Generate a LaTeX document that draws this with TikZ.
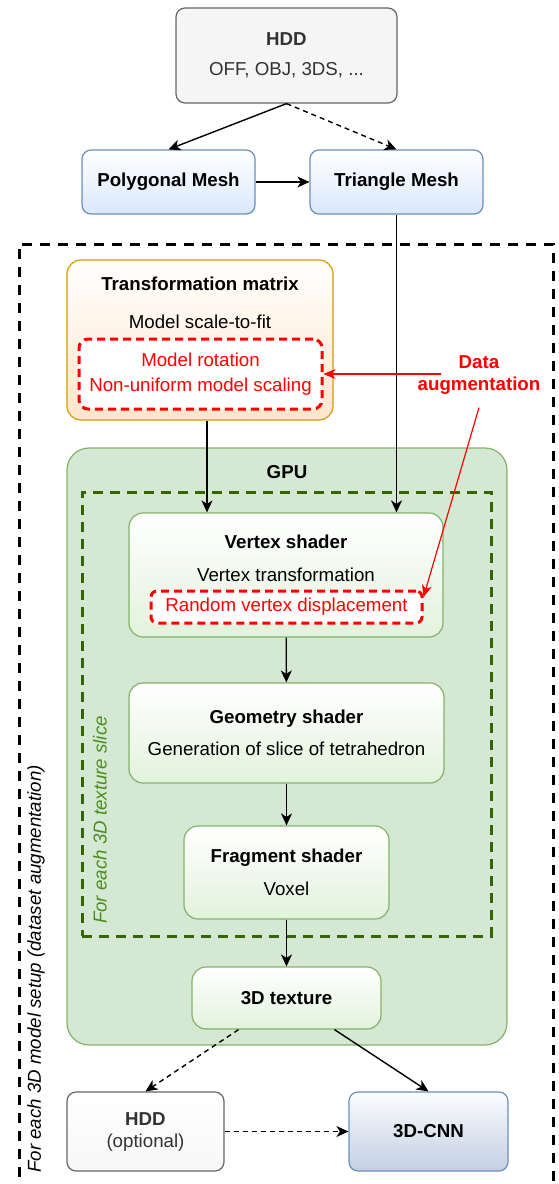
\documentclass[tikz,border=0pt]{standalone}
\usepackage{fontspec}
\setmainfont{Liberation Sans}
\usetikzlibrary{arrows.meta}

\definecolor{hddline}{HTML}{666666}
\definecolor{hddfill}{HTML}{F5F5F5}
\definecolor{hddtext}{HTML}{333333}
\definecolor{meshline}{HTML}{6C8EBF}
\definecolor{meshfill}{HTML}{DAE8FC}
\definecolor{cnnfill}{HTML}{C3CFE2}
\definecolor{tmline}{HTML}{D79B00}
\definecolor{tmfill}{HTML}{FFE6CC}
\definecolor{gpuline}{HTML}{82B366}
\definecolor{gpufill}{HTML}{D5E8D4}
\definecolor{shaderfill}{HTML}{E2F2DC}
\definecolor{sliceline}{HTML}{336600}
\definecolor{slicetext}{HTML}{4D8C21}
\definecolor{augred}{HTML}{FF0000}

\tikzset{
  every node/.style={font=\fontsize{18.7}{22}\selectfont, inner sep=0pt},
  card/.style={rounded corners=9pt, line width=1.2pt, align=center},
  graycard/.style={card, draw=hddline, text=hddtext},
  bluecard/.style={card, draw=meshline, top color=white, bottom color=meshfill},
  cnncard/.style={card, draw=meshline, top color=white!90!meshfill, bottom color=cnnfill},
  orangecard/.style={card, draw=tmline, top color=white, bottom color=tmfill, rounded corners=14pt},
  shadercard/.style={card, draw=gpuline, top color=white, bottom color=shaderfill, rounded corners=14pt},
  gpubox/.style={draw=gpuline, fill=gpufill, line width=1.2pt, rounded corners=22pt},
  slicebox/.style={draw=sliceline, line width=3pt, dash pattern=on 10pt off 7pt},
  loopline/.style={draw=black, line width=3pt, dash pattern=on 10pt off 8pt},
  redbox/.style={draw=augred, fill=white, text=augred, line width=3pt,
    dash pattern=on 8pt off 5pt, rounded corners=9pt, align=center},
  sidelabel/.style={rotate=90, font=\fontsize{18.7}{22}\selectfont\itshape},
  flow/.style={-{Stealth[length=12pt,width=11pt,inset=3.5pt]}, line width=1.4pt},
  flowdash/.style={flow, dash pattern=on 5pt off 4pt},
  augarrow/.style={-{Stealth[length=12pt,width=10pt,inset=3.5pt]}, draw=augred, line width=1.2pt},
}

\begin{document}
\begin{tikzpicture}[x=1pt,y=-1pt]
\useasboundingbox (0,0) rectangle (558,1184);

% loop over the 3D models
\draw[loopline] (19,1195) -- (19,244) -- (553,244) -- (553,1195);
\node[sidelabel] (looplabel) at (36,969) {For each 3D model setup (dataset augmentation)};

% input side
\node[graycard, fill=hddfill, minimum width=221pt, minimum height=95pt] (hdd) at (286.5,55.5)
  {\textbf{HDD}\\[8pt]OFF, OBJ, 3DS, ...};
\node[bluecard, minimum width=173pt, minimum height=64pt] (poly) at (168.5,182) {\textbf{Polygonal Mesh}};
\node[bluecard, minimum width=173pt, minimum height=64pt] (tri) at (396.5,182) {\textbf{Triangle Mesh}};

% transformation matrix
\node[orangecard, minimum width=266pt, minimum height=160pt] (tm) at (200,340) {};
\node (tmtitle) at (200,284) {\textbf{Transformation matrix}};
\node (tmfit) at (200,322) {Model scale-to-fit};
\node[redbox, minimum width=243pt, minimum height=70pt] (tmaug) at (200.5,374)
  {Model rotation\\[3pt]Non-uniform model scaling};

\node[text=augred, align=center] (aug) at (479,375) {\textbf{Data}\\\textbf{augmentation}};

% GPU pipeline
\node[gpubox, minimum width=440pt, minimum height=597pt] (gpu) at (287,746.5) {};
\node (gpulabel) at (287,472) {\textbf{GPU}};
\node[slicebox, minimum width=409pt, minimum height=444pt] (slice) at (286.5,714) {};
\node[sidelabel, text=slicetext] (slicelabel) at (100,820) {For each 3D texture slice};

\node[shadercard, minimum width=314pt, minimum height=124pt] (vs) at (286,575) {};
\node (vstitle) at (286,542) {\textbf{Vertex shader}};
\node (vstrans) at (286,575) {Vertex transformation};
\node[redbox, minimum width=271pt, minimum height=32pt, rounded corners=6pt] (vsaug) at (286.5,607)
  {Random vertex displacement};

\node[shadercard, minimum width=315pt, minimum height=100pt] (gs) at (286.5,733)
  {\textbf{Geometry shader}\\[10pt]Generation of slice of tetrahedron};
\node[shadercard, minimum width=205pt, minimum height=93pt] (fs) at (286.5,872.5)
  {\textbf{Fragment shader}\\[11pt]Voxel};
\node[shadercard, minimum width=189pt, minimum height=62pt] (tex) at (286.5,998) {\textbf{3D texture}};

% output side
\node[graycard, top color=white, bottom color=hddfill!80!hddline!20, minimum width=157pt, minimum height=79pt]
  (hddopt) at (145.5,1131.5) {\textbf{HDD}\\(optional)};
\node[cnncard, minimum width=159pt, minimum height=79pt] (cnn) at (428.5,1131.5) {\textbf{3D-CNN}};

% connectors
\draw[flow] (hdd.south) -- (poly.north);
\draw[flowdash] (hdd.south) -- (tri.north);
\draw[flow] (poly) -- (tri);
\draw[flow] (tri.south) -- (tri.south |- vs.north);
\coordinate (tmout) at ([xshift=7pt]tm.south);
\draw[flow] (tmout) -- (tmout |- vs.north);
\draw[flow] (vs) -- (gs);
\draw[flow] (gs) -- (fs);
\draw[flow] (fs) -- (tex);
\coordinate (texleft) at ([xshift=-48pt]tex.south);
\coordinate (texright) at ([xshift=48pt]tex.south);
\draw[flowdash] (texleft) -- (hddopt.north);
\draw[flow] (texright) -- (cnn.north);
\draw[flowdash] (hddopt) -- (cnn);
\coordinate (augstart) at ([xshift=23pt]aug.west);
\draw[augarrow] (augstart |- tmaug.east) -- (tmaug.east);
\draw[augarrow] ([yshift=-13pt]aug.south) -- ([yshift=10pt]vsaug.east);

\end{tikzpicture}
\end{document}
